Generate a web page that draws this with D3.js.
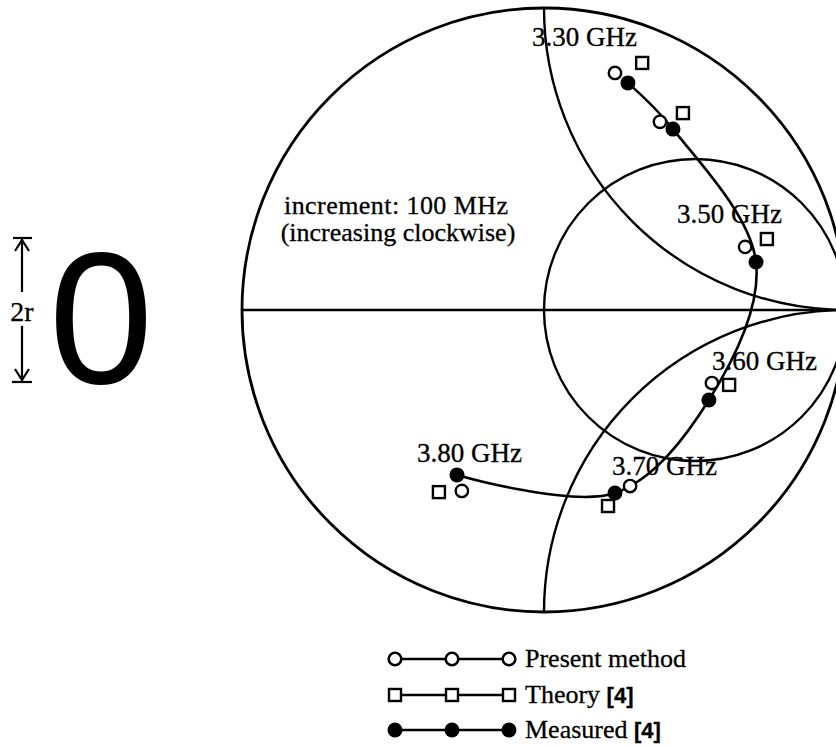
<!DOCTYPE html>
<html><head><meta charset="utf-8">
<script src="https://cdn.jsdelivr.net/npm/d3@7"></script>
<style>html,body{margin:0;padding:0;background:#fff;}svg{display:block;}</style>
</head><body>
<svg id="chart" width="836" height="747"></svg>
<script>
// ---- data (reflection coefficient, real / imaginary) ----
const freqs = ["3.30 GHz","3.40 GHz","3.50 GHz","3.60 GHz","3.70 GHz","3.80 GHz"];
const measuredRe = [0.278, 0.427, 0.702, 0.546, 0.235, -0.288];
const measuredIm = [0.752, 0.599, 0.159, -0.298, -0.606, -0.546];
const presentRe  = [0.235, 0.384, 0.666, 0.556, 0.285, -0.272];
const presentIm  = [0.785, 0.623, 0.209, -0.242, -0.583, -0.599];
const theoryRe   = [0.325, 0.460, 0.738, 0.613, 0.212, -0.348];
const theoryIm   = [0.818, 0.652, 0.235, -0.248, -0.649, -0.603];
const labelFreqs = ["3.30 GHz","3.50 GHz","3.60 GHz","3.70 GHz","3.80 GHz"];
const legendNames = ["Present method","Theory ","Measured "];
const legendRefs = ["","[4]","[4]"];

// ---- layout ----
const svg = d3.select("#chart");
const cx = 544, cy = 310, R = 302;
const x = d3.scaleLinear().domain([-1,1]).range([cx-R, cx+R]);
const y = d3.scaleLinear().domain([-1,1]).range([cy+R, cy-R]);
const serif = "'Liberation Serif','Times New Roman',serif";

// Smith chart grid
const defs = svg.append("defs");
defs.append("clipPath").attr("id","outer").append("circle")
  .attr("cx", x(0)).attr("cy", y(0)).attr("r", x(1)-x(0));
const grid = svg.append("g").attr("fill","none").attr("stroke","#000");
grid.append("circle").attr("cx", x(0)).attr("cy", y(0)).attr("r", x(1)-x(0)).attr("stroke-width",2.8);
grid.append("line").attr("x1", x(-1)).attr("x2", x(1)).attr("y1", y(0)).attr("y2", y(0)).attr("stroke-width",2.4);
const g2 = grid.append("g").attr("clip-path","url(#outer)").attr("stroke-width",2.4);
// resistance circle r = 1
g2.append("circle").attr("cx", x(0.5)).attr("cy", y(0)).attr("r", x(0.5)-x(0));
// reactance arcs x = +1, -1
g2.append("circle").attr("cx", x(1)).attr("cy", y(1)).attr("r", x(1)-x(0));
g2.append("circle").attr("cx", x(1)).attr("cy", y(-1)).attr("r", x(1)-x(0));

// measured trajectory
const meas = measuredRe.map((v,i)=>[v, measuredIm[i]]);
const pres = presentRe.map((v,i)=>[v, presentIm[i]]);
const theo = theoryRe.map((v,i)=>[v, theoryIm[i]]);
svg.append("path").datum(meas)
  .attr("d", d3.line().x(d=>x(d[0])).y(d=>y(d[1])).curve(d3.curveCatmullRom.alpha(0.5)))
  .attr("fill","none").attr("stroke","#000").attr("stroke-width",2.6);

// markers
svg.append("g").selectAll("rect").data(theo).join("rect")
  .attr("x", d=>x(d[0])-6).attr("y", d=>y(d[1])-6).attr("width",12).attr("height",12)
  .attr("fill","#fff").attr("stroke","#000").attr("stroke-width",2.4);
svg.append("g").selectAll("circle").data(pres).join("circle")
  .attr("cx", d=>x(d[0])).attr("cy", d=>y(d[1])).attr("r",6.2)
  .attr("fill","#fff").attr("stroke","#000").attr("stroke-width",2.4);
svg.append("g").selectAll("circle").data(meas).join("circle")
  .attr("cx", d=>x(d[0])).attr("cy", d=>y(d[1])).attr("r",7.5)
  .attr("fill","#000");

// frequency labels
const labelPos = {"3.30 GHz":[532,46],"3.50 GHz":[677,223],"3.60 GHz":[712,370],"3.70 GHz":[612,475],"3.80 GHz":[417,462]};
svg.append("g").selectAll("text").data(labelFreqs).join("text")
  .attr("x", d=>labelPos[d][0]).attr("y", d=>labelPos[d][1])
  .attr("font-family", serif).attr("font-size",27).attr("fill","#000")
  .attr("stroke","#000").attr("stroke-width",0.3)
  .text(d=>d);

// increment note
svg.append("text").attr("x",396).attr("y",214).attr("text-anchor","middle")
  .attr("font-family",serif).attr("font-size",26).attr("stroke","#000").attr("stroke-width",0.3)
  .attr("textLength",224).attr("lengthAdjust","spacing")
  .text("increment: 100 MHz");
svg.append("text").attr("x",398).attr("y",241).attr("text-anchor","middle")
  .attr("font-family",serif).attr("font-size",26).attr("stroke","#000").attr("stroke-width",0.3)
  .text("(increasing clockwise)");

// legend
const legY = [659, 695, 730];
const legX = [395, 452, 509];
const lg = svg.append("g");
legendNames.forEach((name,i)=>{
  const row = lg.append("g");
  row.append("line").attr("x1",legX[0]).attr("x2",legX[2]).attr("y1",legY[i]).attr("y2",legY[i])
    .attr("stroke","#000").attr("stroke-width",2.4);
  legX.forEach(lx=>{
    if(i===0) row.append("circle").attr("cx",lx).attr("cy",legY[i]).attr("r",6.3)
      .attr("fill","#fff").attr("stroke","#000").attr("stroke-width",2.6);
    else if(i===1) row.append("rect").attr("x",lx-6).attr("y",legY[i]-6).attr("width",12).attr("height",12)
      .attr("fill","#fff").attr("stroke","#000").attr("stroke-width",2.4);
    else row.append("circle").attr("cx",lx).attr("cy",legY[i]).attr("r",7.5).attr("fill","#000");
  });
  const t = row.append("text").attr("x",525).attr("y",legY[i]+8)
    .attr("font-family",serif).attr("font-size",26).attr("fill","#000")
    .attr("stroke","#000").attr("stroke-width",0.3);
  t.append("tspan").text(name);
  if(legendRefs[i]) t.append("tspan").attr("font-family","'Liberation Sans',Arial,sans-serif")
    .attr("font-weight","bold").attr("font-size",22).text(legendRefs[i]);
});

// left: 2r dimension and big "0"
const dim = svg.append("g").attr("stroke","#000").attr("stroke-width",2.2).attr("fill","none");
dim.append("line").attr("x1",13).attr("x2",32).attr("y1",238).attr("y2",238);
dim.append("line").attr("x1",12).attr("x2",32).attr("y1",382).attr("y2",382);
dim.append("line").attr("x1",22).attr("x2",22).attr("y1",239).attr("y2",292);
dim.append("line").attr("x1",22).attr("x2",22).attr("y1",326).attr("y2",381);
dim.append("path").attr("d","M15,251 L22,240 L29,251");
dim.append("path").attr("d","M15,369 L22,380 L29,369");
svg.append("text").attr("x",22).attr("y",321).attr("text-anchor","middle")
  .attr("font-family",serif).attr("font-size",28).attr("stroke","#000").attr("stroke-width",0.3).text("2r");
svg.append("text").attr("x",101).attr("y",383).attr("text-anchor","middle")
  .attr("font-family","'Liberation Sans',Arial,sans-serif").attr("font-size",188).text("0");
</script>
</body></html>
